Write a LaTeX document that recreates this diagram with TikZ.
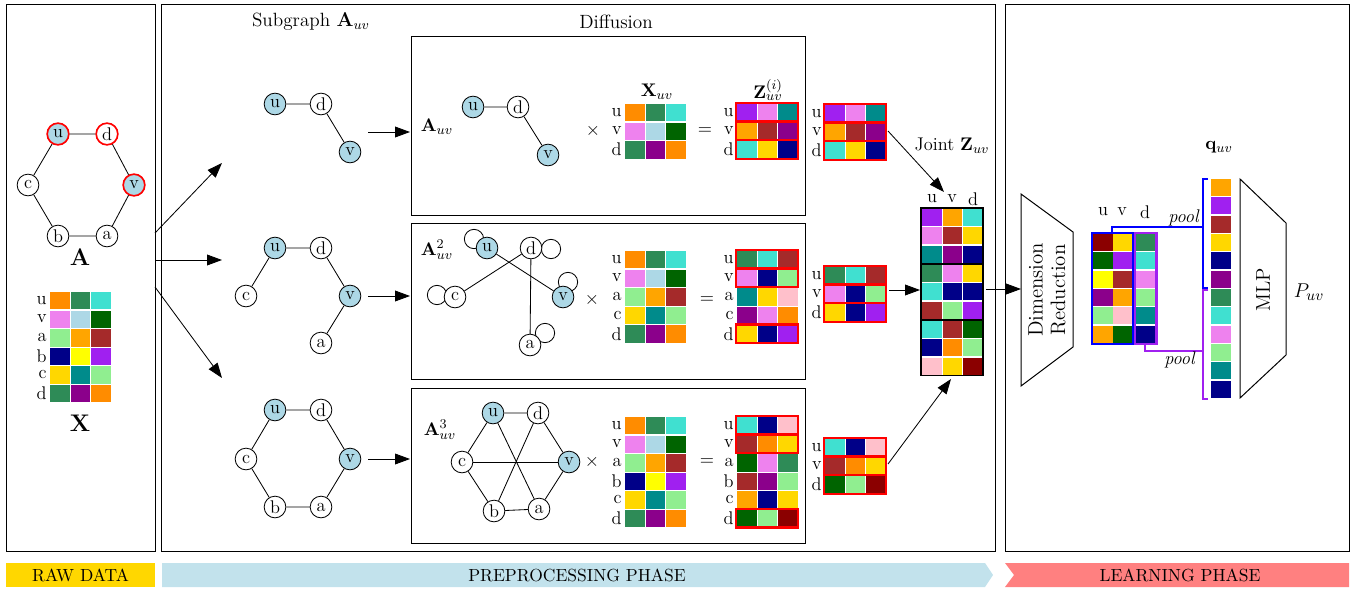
\documentclass[tikz,border=0pt]{standalone}
\usetikzlibrary{arrows.meta}
\definecolor{DOr}{HTML}{FF8C00}
\definecolor{SGr}{HTML}{2E8B57}
\definecolor{Tq}{HTML}{40E0D0}
\definecolor{Vi}{HTML}{EE82EE}
\definecolor{LB}{HTML}{ADD8E6}
\definecolor{DG}{HTML}{006400}
\definecolor{LG}{HTML}{90EE90}
\definecolor{Or}{HTML}{FFA500}
\definecolor{Br}{HTML}{A52A2A}
\definecolor{Nv}{HTML}{000088}
\definecolor{Ye}{HTML}{FFFF00}
\definecolor{Pu}{HTML}{A020F0}
\definecolor{Go}{HTML}{FFD700}
\definecolor{Te}{HTML}{008B8B}
\definecolor{DM}{HTML}{8B008B}
\definecolor{Pk}{HTML}{FFC0CB}
\definecolor{DR}{HTML}{8B0000}
\definecolor{PreBlue}{HTML}{C2E2EC}
\definecolor{LearnRed}{HTML}{FF8080}
\definecolor{BluePool}{HTML}{0000FF}
\newcommand\mrow[4]{%
  \node[mlab] at ({#1-3},{#2+8.5}) {#3};
  \foreach \mycol [count=\myi from 0] in {#4} {\fill[\mycol] ({#1+\myi*20.5},{#2}) rectangle ++(19.5,17.3);}%
}
\newcommand\crow[3]{%
  \foreach \mycol [count=\myi from 0] in {#3} {\fill[\mycol] ({#1+\myi*20.5},{#2}) rectangle ++(19.5,17);}%
}
\newcommand\ccol[4]{%
  \foreach \mycol [count=\myi from 0] in {#4} {\fill[\mycol] ({#1},{#2+\myi*#3}) rectangle ++(19.5,17);}%
}
\newcommand\rframe[2]{\draw[rfr] ({#1-1},{#2-1}) rectangle ({#1+61},{#2+17.6});}
\begin{document}
\begin{tikzpicture}[x=0.6pt,y=-0.6pt,
  every node/.style={font=\fontsize{11}{13}\selectfont},
  gn/.style={circle,draw,line width=0.5pt,minimum size=13pt,inner sep=0pt,fill=white},
  gu/.style={gn,fill=LB},
  ge/.style={line width=0.5pt},
  box/.style={draw,line width=0.6pt},
  arr/.style={line width=0.5pt,-{Triangle[length=9pt,width=6.5pt]}},
  mlab/.style={anchor=east,inner sep=0pt},
  rfr/.style={draw=red,line width=1.5pt},
  big/.style={font=\fontsize{14}{16}\selectfont},
  bar/.style={font=\fontsize{10.5}{12}\selectfont},
]
\useasboundingbox (0,0) rectangle (1354,590);

% ---------- outer boxes ----------
\draw[box] (6,5) rectangle (155,551);
\draw[box] (161,5) rectangle (995,551);
\draw[box] (1005,5) rectangle (1349,551);

% ---------- raw data ----------
\node[gu,draw=red,line width=1pt] (Au) at (58,134) {u};
\node[gn,draw=red,line width=1pt] (Ad) at (107,134) {d};
\node[gn] (Ac) at (28,185) {c};
\node[gu,draw=red,line width=1pt] (Av) at (134,185) {v};
\node[gn] (Ab) at (58,236) {b};
\node[gn] (Aa) at (107,236) {a};
\draw[ge] (Au)--(Ad)--(Av)--(Aa)--(Ab)--(Ac)--(Au);
\node[big] (Alab) at (80,257) {$\mathbf{A}$};
\mrow{50}{292}{u}{DOr,SGr,Tq}
\mrow{50}{310.6}{v}{Vi,LB,DG}
\mrow{50}{329.2}{a}{LG,Or,Br}
\mrow{50}{347.8}{b}{Nv,Ye,Pu}
\mrow{50}{366.4}{c}{Go,Te,LG}
\mrow{50}{385}{d}{SGr,DM,DOr}
\node[big] (Xlab) at (80,423) {$\mathbf{X}$};

% ---------- preprocessing ----------
\node[font=\fontsize{11.5}{13}\selectfont] (subt) at (311,22) {Subgraph $\mathbf{A}_{uv}$};
\node[font=\fontsize{11.5}{13}\selectfont] (dift) at (616,22) {Diffusion};

\coordinate (s1) at (155,233); \coordinate (e1) at (222,163);
\coordinate (s2) at (155,260); \coordinate (e2) at (222,260);
\coordinate (s3) at (155,287); \coordinate (e3) at (222,378);
\draw[arr] (s1)--(e1);
\draw[arr] (s2)--(e2);
\draw[arr] (s3)--(e3);

% subgraph 1
\node[gu] (S1u) at (275,104) {u};
\node[gn] (S1d) at (321,104) {d};
\node[gu] (S1v) at (350,152) {v};
\draw[ge] (S1u)--(S1d)--(S1v);
% subgraph 2
\node[gu] (S2u) at (275,248) {u};
\node[gn] (S2d) at (321,248) {d};
\node[gn] (S2c) at (246,296) {c};
\node[gu] (S2v) at (350,296) {v};
\node[gn] (S2a) at (321,343) {a};
\draw[ge] (S2c)--(S2u)--(S2d)--(S2v)--(S2a);
% subgraph 3
\node[gu] (S3u) at (275,410) {u};
\node[gn] (S3d) at (321,410) {d};
\node[gn] (S3c) at (246,459) {c};
\node[gu] (S3v) at (350,459) {v};
\node[gn] (S3b) at (275,507) {b};
\node[gn] (S3a) at (321,507) {a};
\draw[ge] (S3u)--(S3d)--(S3v)--(S3a)--(S3b)--(S3c)--(S3u);

\coordinate (t1) at (368,132); \coordinate (u1) at (410,132);
\coordinate (t2) at (368,296); \coordinate (u2) at (410,296);
\coordinate (t3) at (368,459); \coordinate (u3) at (410,459);
\draw[arr] (t1)--(u1);
\draw[arr] (t2)--(u2);
\draw[arr] (t3)--(u3);

% diffusion boxes
\draw[box] (411,37) rectangle (805,215);
\draw[box] (411,223) rectangle (805,379);
\draw[box] (411,388) rectangle (805,543);

% --- box A
\node (BAl) at (437,127) {$\mathbf{A}_{uv}$};
\node[gu] (Bau) at (473,107) {u};
\node[gn] (Bad) at (518,107) {d};
\node[gu] (Bav) at (548,155) {v};
\draw[ge] (Bau)--(Bad)--(Bav);
\node (BAx) at (593,131) {$\times$};
\node (BAX) at (657,92) {$\mathbf{X}_{uv}$};
\mrow{625}{104}{u}{DOr,SGr,Tq}
\mrow{625}{122.6}{v}{Vi,LB,DG}
\mrow{625}{141.2}{d}{SGr,DM,DOr}
\node (BAe) at (705,131) {$=$};
\node (BAZ) at (768,90) {$\mathbf{Z}^{(i)}_{uv}$};
\mrow{737}{104}{u}{Pu,Vi,Te}
\mrow{737}{122.6}{v}{Or,Br,DM}
\mrow{737}{141.2}{d}{Tq,Go,Nv}
\rframe{737}{104}\rframe{737}{122.6}\rframe{737}{141.2}

% --- box B
\draw[ge] (474,239) circle (5.8pt);
\draw[ge] (551,249) circle (5.8pt);
\draw[ge] (437,295) circle (5.8pt);
\draw[ge] (568,282) circle (5.8pt);
\draw[ge] (545,333) circle (5.8pt);
\node (BBl) at (437,250) {$\mathbf{A}^{2}_{uv}$};
\node[gu] (Bbu) at (487,248) {u};
\node[gn] (Bbd) at (531,248) {d};
\node[gn] (Bbc) at (455,297) {c};
\node[gu] (Bbv) at (563,297) {v};
\node[gn] (Bba) at (530,345) {a};
\draw[ge] (Bbu)--(Bbv);
\draw[ge] (Bbd)--(Bbc);
\draw[ge] (Bbd)--(Bba);
\node (BBx) at (592,300) {$\times$};
\mrow{625}{251}{u}{DOr,SGr,Tq}
\mrow{625}{269.6}{v}{Vi,LB,DG}
\mrow{625}{288.2}{a}{LG,Or,Br}
\mrow{625}{306.8}{c}{Go,Te,LG}
\mrow{625}{325.4}{d}{SGr,DM,DOr}
\node (BBe) at (707,300) {$=$};
\mrow{737}{251}{u}{SGr,Tq,Br}
\mrow{737}{269.6}{v}{Vi,Nv,LG}
\mrow{737}{288.2}{a}{Te,Go,Pk}
\mrow{737}{306.8}{c}{DM,Vi,DOr}
\mrow{737}{325.4}{d}{Go,Nv,Pu}
\rframe{737}{251}\rframe{737}{269.6}\rframe{737}{325.4}

% --- box C
\node (BCl) at (440,430) {$\mathbf{A}^{3}_{uv}$};
\node[gu] (Bcu) at (493,413) {u};
\node[gn] (Bcd) at (538,413) {d};
\node[gn] (Bcc) at (462,462) {c};
\node[gu] (Bcv) at (569,462) {v};
\node[gn] (Bcb) at (494,511) {b};
\node[gn] (Bca) at (539,509) {a};
\draw[ge] (Bcu)--(Bcd)--(Bcv)--(Bca)--(Bcb)--(Bcc)--(Bcu);
\draw[ge] (Bcu)--(Bca);
\draw[ge] (Bcd)--(Bcb);
\draw[ge] (Bcc)--(Bcv);
\node (BCx) at (592,462) {$\times$};
\mrow{625}{417}{u}{DOr,SGr,Tq}
\mrow{625}{435.6}{v}{Vi,LB,DG}
\mrow{625}{454.2}{a}{LG,Or,Br}
\mrow{625}{472.8}{b}{Nv,Ye,Pu}
\mrow{625}{491.4}{c}{Go,Te,LG}
\mrow{625}{510}{d}{SGr,DM,DOr}
\node (BCe) at (707,462) {$=$};
\mrow{737}{417}{u}{Tq,Nv,Pk}
\mrow{737}{435.6}{v}{Br,DOr,Go}
\mrow{737}{454.2}{a}{DG,Vi,SGr}
\mrow{737}{472.8}{b}{Br,DM,LG}
\mrow{737}{491.4}{c}{Or,Nv,Go}
\mrow{737}{510}{d}{DG,LG,DR}
\rframe{737}{417}\rframe{737}{435.6}\rframe{737}{510}

% --- copies
\mrow{825}{105}{u}{Pu,Vi,Te}
\mrow{825}{123.6}{v}{Or,Br,DM}
\mrow{825}{142.2}{d}{Tq,Go,Nv}
\rframe{825}{105}\rframe{825}{123.6}\rframe{825}{142.2}
\mrow{825}{267}{u}{SGr,Tq,Br}
\mrow{825}{285.6}{v}{Vi,Nv,LG}
\mrow{825}{304.2}{d}{Go,Nv,Pu}
\rframe{825}{267}\rframe{825}{285.6}\rframe{825}{304.2}
\mrow{825}{439}{u}{Tq,Nv,Pk}
\mrow{825}{457.6}{v}{Br,DOr,Go}
\mrow{825}{476.2}{d}{DG,LG,DR}
\rframe{825}{439}\rframe{825}{457.6}\rframe{825}{476.2}

% --- joint Z
\node (JZt) at (952,146) {Joint $\mathbf{Z}_{uv}$};
\node (JZu) at (932,199) {u};
\node (JZv) at (952,199) {v};
\node (JZd) at (973,199) {d};
\crow{922}{209}{Pu,Or,Tq}
\crow{922}{227.3}{Vi,Br,Go}
\crow{922}{245.6}{Te,DM,Nv}
\crow{922}{265}{SGr,Vi,Go}
\crow{922}{283.3}{Tq,Nv,Nv}
\crow{922}{301.6}{Br,LG,Pu}
\crow{922}{321}{Tq,Br,DG}
\crow{922}{339.3}{Nv,DOr,LG}
\crow{922}{357.6}{Pk,Go,DR}
\draw[line width=0.7pt] (921,208) rectangle (983,263.2);
\draw[line width=0.7pt] (921,264) rectangle (983,319.2);
\draw[line width=0.7pt] (921,320) rectangle (983,375.2);

\coordinate (c1) at (888,131); \coordinate (j1) at (944,192);
\coordinate (c2) at (889,290); \coordinate (j2) at (920,290);
\coordinate (c3) at (888,464); \coordinate (j3) at (951,379);
\draw[arr] (c1)--(j1);
\draw[arr] (c2)--(j2);
\draw[arr] (c3)--(j3);
\coordinate (jo) at (986,289); \coordinate (dri) at (1021,289);
\draw[arr] (jo)--(dri);

% ---------- learning ----------
\draw[line width=0.6pt] (1021,194) -- (1073,232) -- (1073,347) -- (1021,386) -- cycle;
\node[rotate=90,align=center,font=\fontsize{12.5}{13.5}\selectfont] (dr) at (1047,290) {Dimension\\Reduction};
\node (Du) at (1103,212) {u};
\node (Dv) at (1122,212) {v};
\node (Dd) at (1145,212) {d};
\ccol{1093}{234}{18.3}{DR,DG,Ye,DM,LG,Or}
\ccol{1113}{234}{18.3}{Go,Pu,Br,Or,Pk,DG}
\ccol{1136}{234}{18.3}{SGr,Tq,Vi,LG,Te,Nv}
\draw[BluePool,line width=1.6pt] (1092,233) rectangle (1133.5,344);
\draw[Pu,line width=1.6pt] (1135,233) rectangle (1156.5,344);
\draw[BluePool,line width=0.8pt] (1112,232) -- (1112,227) -- (1203,227);
\draw[BluePool,line width=0.8pt] (1208,179) -- (1203,179) -- (1203,288) -- (1208,288);
\draw[Pu,line width=0.8pt] (1145,345) -- (1145,351) -- (1203,351);
\draw[Pu,line width=0.8pt] (1208,290) -- (1203,290) -- (1203,399) -- (1208,399);
\node (pl1) at (1184,218) {\textit{pool}};
\node (pl2) at (1180,360) {\textit{pool}};
\node (qt) at (1219,147) {$\mathbf{q}_{uv}$};
\ccol{1211}{179}{18.33}{Or,Pu,Br,Go,Nv,DM,SGr,Tq,Vi,LG,Te,Nv}
\draw[line width=0.6pt] (1240,179) -- (1286,223) -- (1286,355) -- (1240,398) -- cycle;
\node[rotate=90,font=\fontsize{12}{13}\selectfont] (mlp) at (1263,290) {MLP};
\node[font=\fontsize{13}{15}\selectfont] (puv) at (1309,292) {$P_{uv}$};

% ---------- bottom bar ----------
\fill[Go] (6,563) rectangle (155,587);
\node[bar] (rawt) at (80.5,575) {RAW DATA};
\fill[PreBlue] (162,563) -- (985,563) -- (993,575) -- (985,587) -- (162,587) -- cycle;
\node[bar] (pret) at (577,575) {PREPROCESSING PHASE};
\fill[LearnRed] (1005,563) -- (1349,563) -- (1349,587) -- (1005,587) -- (1014,575) -- cycle;
\node[bar] (learnt) at (1180,575) {LEARNING PHASE};
\end{tikzpicture}
\end{document}
